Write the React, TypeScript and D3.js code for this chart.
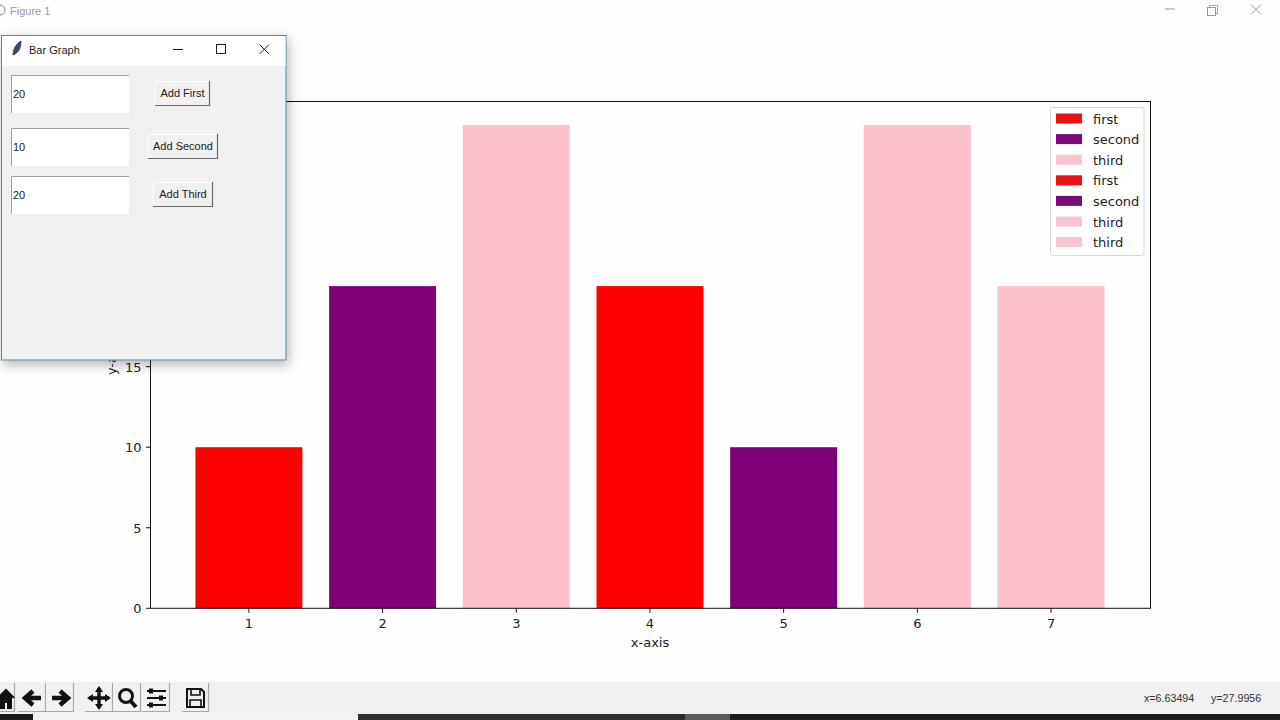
import React from "react";
import * as d3 from "d3";

const positions = [1, 2, 3, 4, 5, 6, 7];
const heights = [10, 20, 30, 20, 10, 30, 20];
const barColors = ["#fe0000", "#800078", "#fdc0cd", "#fe0000", "#800078", "#fdc0cd", "#fdc0cd"];
const legendLabels = ["first", "second", "third", "first", "second", "third", "third"];
const legendColors = ["#ec0f14", "#7a0a78", "#f9c4d0", "#ec0f14", "#7a0a78", "#f9c4d0", "#f9c4d0"];
const xTicks = [1, 2, 3, 4, 5, 6, 7];
const yTicks = [0, 5, 10, 15, 20, 25, 30];
const inputValues = ["20", "10", "20"];
const buttonLabels = ["Add First", "Add Second", "Add Third"];

const fieldY = [75, 128, 176];
const buttonX = [155, 148, 153];
const buttonW = [55, 70, 60];
const buttonY = [81, 134, 182];

const AX = { left: 150.5, right: 1150.5, top: 101.5, bottom: 608.3 };
const chartFont = "'DejaVu Sans', sans-serif";
const uiFont = "'Liberation Sans', sans-serif";

const x = d3.scaleLinear().domain([0.264, 7.744]).range([AX.left, AX.right]);
const y = d3.scaleLinear().domain([0, 31.46]).range([AX.bottom, AX.top]);

const toolButtons = [
  [-6, 21], [18, 28], [46, 28], [85, 28], [113, 28], [142, 28], [182, 27],
];

function Toolbar() {
  return (
    <g>
      <rect x={0} y={682} width={1280} height={32} fill="#f0f0f0" />
      {toolButtons.map(([bx, bw], i) => (
        <g key={i}>
          <rect x={bx} y={683} width={bw} height={28} fill="#f1f1f1" />
          <path d={`M${bx + bw - 0.5} 683V711.5H${bx}`} fill="none" stroke="#a8a8a8" strokeWidth={1.2} />
        </g>
      ))}
      <path d="M-2 698L6 690L14 698M1 698V708H4V702H8V708H11V698" fill="#111" stroke="#111" strokeWidth={2} />
      <path d="M41 698H27M33 691L25 698L33 705" fill="none" stroke="#111" strokeWidth={4.5} />
      <path d="M52 698H66M60 691L68 698L60 705" fill="none" stroke="#111" strokeWidth={4.5} />
      <path d="M99 688V708M89 698H109" stroke="#111" strokeWidth={3.4} />
      <path d="M95 692L99 686L103 692ZM95 704L99 710L103 704ZM93 694L87 698L93 702ZM105 694L111 698L105 702Z" fill="#111" />
      <circle cx={126} cy={696} r={6.5} fill="none" stroke="#111" strokeWidth={3} />
      <path d="M130.5 701L136 707" stroke="#111" strokeWidth={4} />
      <path d="M147 691H166M147 698H166M147 705H166" stroke="#111" strokeWidth={1.8} />
      <path d="M151 688.5V693.5M161 695.5V700.5M151 702.5V707.5" stroke="#111" strokeWidth={4} />
      <path d="M187 689H201L204 692V707H187Z" fill="none" stroke="#111" strokeWidth={2} />
      <path d="M191 689V695H200V689M190 707V700H201V707" fill="none" stroke="#111" strokeWidth={1.6} />
      <text x={1144} y={702} fontFamily={uiFont} fontSize={10.7} fill="#333">x=6.63494</text>
      <text x={1211} y={702} fontFamily={uiFont} fontSize={10.7} fill="#333">y=27.9956</text>
      <rect x={0} y={714} width={1280} height={6} fill="#1c1c1c" />
      <rect x={33} y={714} width={325} height={6} fill="#f2f2f2" />
      <rect x={358} y={714} width={327} height={6} fill="#2e2e2e" />
      <rect x={685} y={714} width={45} height={6} fill="#5c5c5c" />
    </g>
  );
}

function Chart() {
  return (
    <g>
      {positions.map((p, i) => (
        <rect
          key={i}
          x={x(p - 0.4)}
          width={x(p + 0.4) - x(p - 0.4)}
          y={y(heights[i])}
          height={y(0) - y(heights[i])}
          fill={barColors[i]}
        />
      ))}
      <rect x={AX.left} y={AX.top} width={AX.right - AX.left} height={AX.bottom - AX.top} fill="none" stroke="#111" strokeWidth={1} />
      {xTicks.map((t) => (
        <g key={t} transform={`translate(${x(t)},${AX.bottom})`}>
          <line y2={4.5} stroke="#111" />
          <text y={20} textAnchor="middle" fontFamily={chartFont} fontSize={13} fill="#222">{t}</text>
        </g>
      ))}
      {yTicks.map((t) => (
        <g key={t} transform={`translate(${AX.left},${y(t)})`}>
          <line x2={-4.5} stroke="#111" />
          <text x={-9} y={5} textAnchor="end" fontFamily={chartFont} fontSize={13} fill="#222">{t}</text>
        </g>
      ))}
      <text x={650} y={647} textAnchor="middle" fontFamily={chartFont} fontSize={13} fill="#222">x-axis</text>
      <text transform="translate(116,356) rotate(-90)" textAnchor="middle" fontFamily={chartFont} fontSize={13} fill="#222">y-axis</text>
      <rect x={1050.5} y={107.5} width={93.5} height={148} rx={2} fill="#fff" stroke="#d8d8d8" />
      {legendLabels.map((l, i) => {
        const ly = 118.5 + i * 20.6;
        return (
          <g key={i}>
            <rect x={1056} y={ly - 5} width={26} height={10} fill={legendColors[i]} />
            <text x={1093} y={ly + 5} fontFamily={chartFont} fontSize={13} fill="#222">{l}</text>
          </g>
        );
      })}
    </g>
  );
}

function Dialog() {
  return (
    <g>
      <rect x={1.5} y={35.5} width={284.5} height={324.5} fill="#f0f0f1" stroke="#5b87a8" filter="url(#shadow)" />
      <rect x={2} y={36} width={283.5} height={30} fill="#fff" />
      <path d="M13 55C13 49 16 44 21 41C21 47 19 52 15 54Z" fill="#3a4a60" stroke="#3a4a60" strokeWidth={1} />
      <text x={29} y={54} fontFamily={uiFont} fontSize={11} fill="#222">Bar Graph</text>
      <path d="M173 49.5H183" stroke="#222" />
      <rect x={216.5} y={44.5} width={9} height={9} fill="none" stroke="#222" />
      <path d="M259.5 44.5L269 54M269 44.5L259.5 54" stroke="#222" />
      {inputValues.map((v, i) => {
        const fy = fieldY[i];
        const [bx, bw, by] = [buttonX[i], buttonW[i], buttonY[i]];
        return (
          <g key={i}>
            <rect x={12} y={fy} width={117} height={38} fill="#fff" />
            <path d={`M11.5 ${fy + 38}V${fy}.5H129`} fill="none" stroke="#a0a0a0" />
            <text x={13} y={fy + 23} fontFamily={uiFont} fontSize={11} fill="#222">{v}</text>
            <rect x={bx} y={by} width={bw} height={25} fill="#f0f0f0" />
            <path d={`M${bx} ${by + 25}V${by}.5H${bx + bw}`} fill="none" stroke="#fff" />
            <path d={`M${bx + bw - 0.5} ${by}V${by + 24.5}H${bx}`} fill="none" stroke="#696969" strokeWidth={1.2} />
            <text x={bx + bw / 2} y={by + 16} textAnchor="middle" fontFamily={uiFont} fontSize={11} fill="#222">{buttonLabels[i]}</text>
          </g>
        );
      })}
    </g>
  );
}

export default function App() {
  return (
    <svg width={1280} height={720} style={{ position: "absolute", left: 0, top: 0 }}>
      <defs>
        <filter id="shadow" x="-10%" y="-10%" width="125%" height="125%">
          <feDropShadow dx={2} dy={4} stdDeviation={6} floodColor="#000" floodOpacity={0.3} />
        </filter>
      </defs>
      <rect width={1280} height={720} fill="#fefefe" />
      <circle cx={0} cy={10} r={5} fill="none" stroke="#888" />
      <text x={10} y={15} fontFamily={uiFont} fontSize={11} fill="#9a9a9a">Figure 1</text>
      <path d="M1165 9H1175" stroke="#999" />
      <rect x={1209.5} y={5.5} width={8} height={8} fill="none" stroke="#aaa" />
      <rect x={1207.5} y={7.5} width={8} height={8} fill="#fefefe" stroke="#999" />
      <path d="M1251 4.5L1261 14.5M1261 4.5L1251 14.5" stroke="#999" />
      <Chart />
      <Toolbar />
      <Dialog />
    </svg>
  );
}
